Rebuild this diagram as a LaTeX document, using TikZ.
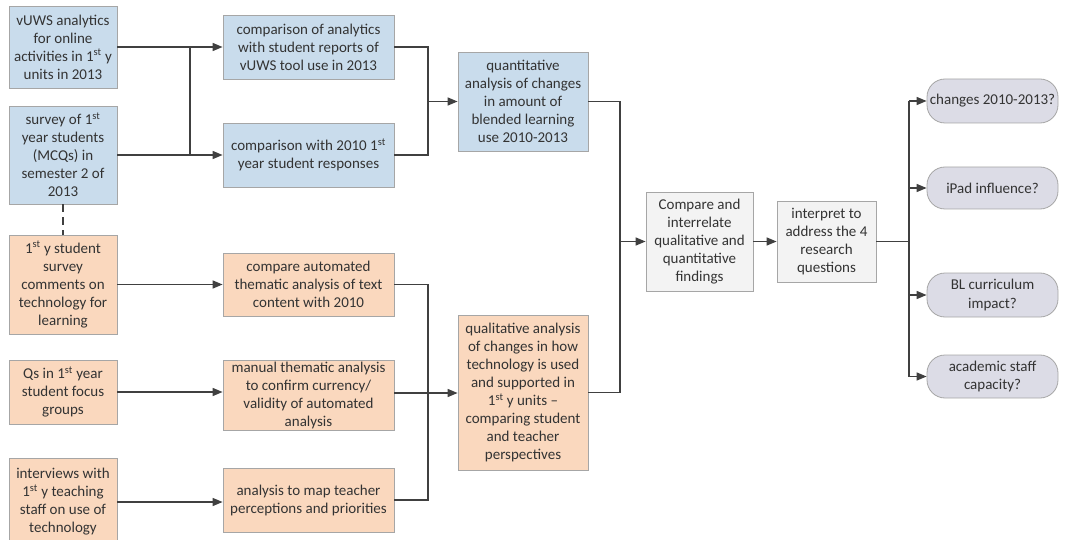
\documentclass[tikz,border=0pt]{standalone}
\usepackage{fontspec}
\setmainfont{Carlito}
\usetikzlibrary{arrows.meta}
\definecolor{bluefill}{HTML}{C9DCEC}
\definecolor{orangefill}{HTML}{FAD8BE}
\definecolor{greyfill}{HTML}{F3F3F3}
\definecolor{lavfill}{HTML}{DCDCE6}
\definecolor{edge}{HTML}{A6A6A6}
\definecolor{linec}{HTML}{404040}
\newcommand{\st}{\textsuperscript{st}}
\begin{document}
\begin{tikzpicture}[x=1pt,y=-1pt,
  every node/.style={font=\fontsize{15}{18}\selectfont, align=center, inner sep=0pt, text=black!80},
  boxbase/.style={draw=edge, line width=0.8pt, minimum width=#1},
  bluebox/.style={boxbase=108pt, fill=bluefill},
  orangebox/.style={boxbase=108pt, fill=orangefill},
  bluemid/.style={boxbase=171pt, fill=bluefill},
  orangemid/.style={boxbase=171pt, fill=orangefill},
  greybox/.style={boxbase=#1, fill=greyfill},
  pill/.style={draw=edge, line width=0.8pt, fill=lavfill, minimum width=131pt, rounded corners=18pt},
  conn/.style={draw=linec, line width=1.4pt},
  arr/.style={conn, -{Triangle[length=10pt,width=8pt]}},
]
\useasboundingbox (0,0) rectangle (1065,540);
\clip (0,0) rectangle (1065,540);

% left column
\node[bluebox, minimum height=82pt] (A1) at (63,47) {vUWS analytics\\for online\\activities in 1\st{} y\\units in 2013};
\node[bluebox, minimum height=98pt] (A2) at (63,155) {survey of 1\st\\year students\\(MCQs) in\\semester 2 of\\2013};
\node[orangebox, minimum height=99pt] (A3) at (63,284.5) {1\st{} y student\\survey\\comments on\\technology for\\learning};
\node[orangebox, minimum height=64pt] (A4) at (63,392) {Qs in 1\st{} year\\student focus\\groups};
\node[orangebox, minimum height=88pt] (A5) at (63,502) {interviews with\\1\st{} y teaching\\staff on use of\\technology};

% middle column
\node[bluemid, minimum height=64pt] (B1) at (308.5,47) {comparison of analytics\\with student reports of\\vUWS tool use in 2013};
\node[bluemid, minimum height=64pt] (B2) at (308.5,155) {comparison with 2010 1\st\\year student responses};
\node[orangemid, minimum height=63pt] (B3) at (308.5,284.5) {compare automated\\thematic analysis of text\\content with 2010};
\node[orangemid, minimum height=70pt] (B4) at (308.5,395) {manual thematic analysis\\to confirm currency/\\validity of automated\\analysis};
\node[orangemid, minimum height=64pt] (B5) at (308.5,500) {analysis to map teacher\\perceptions and priorities};

% analysis column
\node[boxbase=130pt, fill=bluefill, minimum height=99pt] (C1) at (523,101.5) {quantitative\\analysis of changes\\in amount of\\blended learning\\use 2010-2013};
\node[boxbase=130pt, fill=orangefill, minimum height=155pt] (C2) at (523,392.5) {qualitative analysis\\of changes in how\\technology is used\\and supported in\\1\st{} y units --\\comparing student\\and teacher\\perspectives};

\node[greybox=107pt, minimum height=99pt] (D) at (699.5,241.5) {Compare and\\interrelate\\qualitative and\\quantitative\\findings};
\node[greybox=99pt, minimum height=81pt] (E) at (826.5,241.5) {interpret to\\address the 4\\research\\questions};

% questions
\node[pill, minimum height=44pt] (F1) at (992.5,101) {changes 2010-2013?};
\node[pill, minimum height=42pt] (F2) at (992.5,188) {iPad influence?};
\node[pill, minimum height=44pt] (F3) at (992.5,295) {BL curriculum\\impact?};
\node[pill, minimum height=43pt] (F4) at (992.5,376.5) {academic staff\\capacity?};

% junction coordinates
\coordinate (j1) at (190,47);
\coordinate (j2) at (190,155);
\coordinate (m1) at (428,101.5);
\coordinate (m2) at (428,393);
\coordinate (r1) at (620,241.5);
\coordinate (q1) at (909,241.5);

% connectors
\draw[conn, dash pattern=on 8pt off 5pt] (A2.south) -- (A3.north);
\draw[arr] (A1.east) -- (B1.west);
\draw[arr] (A2.east) -- (B2.west);
\draw[conn] (j1) -- (j2);
\draw[arr] (A3.east) -- (A3.east -| B3.west);
\draw[arr] (A4.east) -- (A4.east -| B4.west);
\draw[arr] (A5.east) -- (A5.east -| B5.west);

\draw[conn] (B1.east) -- (B1.east -| m1) -- (B2.east -| m1) -- (B2.east);
\draw[arr] (m1) -- (C1.west);
\draw[conn] (B3.east) -- (B3.east -| m2) -- (B5.east -| m2) -- (B5.east);
\draw[conn] (B4.east |- m2) -- (m2);
\draw[arr] (m2) -- (m2 -| C2.west);

\draw[conn] (C1.east) -- (C1.east -| r1) -- (C2.east -| r1) -- (C2.east);
\draw[arr] (r1) -- (D.west);
\draw[arr] (D.east) -- (E.west);
\draw[conn] (E.east) -- (q1);
\draw[conn] (F1.west -| q1) -- (F4.west -| q1);
\draw[arr] (F1.west -| q1) -- (F1.west);
\draw[arr] (F2.west -| q1) -- (F2.west);
\draw[arr] (F3.west -| q1) -- (F3.west);
\draw[arr] (F4.west -| q1) -- (F4.west);
\end{tikzpicture}
\end{document}
